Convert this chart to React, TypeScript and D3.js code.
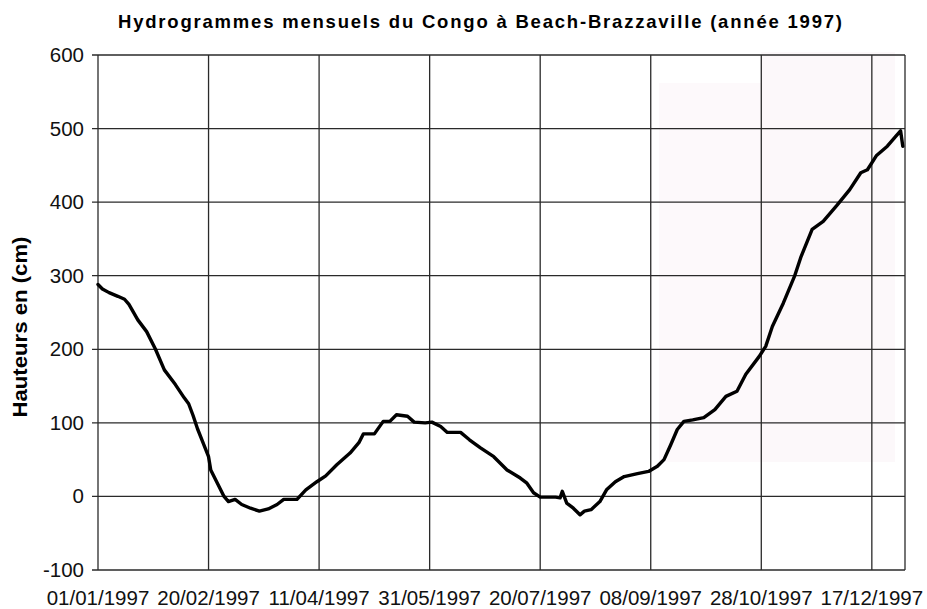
import React from "react";
import * as d3 from "d3";

const TITLE = "Hydrogrammes mensuels du Congo à Beach-Brazzaville (année 1997)";
const Y_LABEL = "Hauteurs en (cm)";

// day offsets from 01/01/1997 and water heights (cm)
const days = [
  0, 2, 5, 9, 12, 14, 18, 22, 26, 30, 35, 39, 41, 43, 45, 47, 50, 51, 54, 57, 59,
  62, 65, 69, 73, 77, 81, 84, 90, 94, 99, 103, 108, 114, 118, 120, 125, 129, 132, 135, 140,
  143, 148, 151, 155, 158, 164, 168, 173, 179, 185, 191, 194, 197, 200, 207, 209, 210, 212, 215, 218,
  220, 223, 227, 230, 234, 238, 244, 249, 253, 256, 259, 262, 265, 269, 274, 279, 284, 289, 293, 299,
  302, 305, 310, 315, 318, 323, 328, 334, 340, 345, 348, 352, 357, 361, 363, 364,
];
const heights = [
  288, 282, 277, 272, 268, 261, 240, 224, 200, 172, 152, 134, 126, 110, 92, 77, 54, 36, 18, 0, -7,
  -4, -11, -16, -20, -17, -11, -4, -4, 9, 20, 28, 43, 59, 73, 85, 85, 102, 102, 111, 109,
  101, 100, 101, 95, 87, 87, 77, 66, 54, 36, 25, 18, 5, -1, -1, -2, 7, -9, -16, -25,
  -20, -18, -7, 9, 20, 27, 31, 34, 41, 50, 70, 91, 102, 104, 107, 118, 136, 143, 166, 190,
  204, 231, 263, 299, 326, 363, 374, 395, 417, 440, 444, 463, 476, 490, 497, 476,
];

const yTicks = [-100, 0, 100, 200, 300, 400, 500, 600];
const xTickOffsets = [0, 50, 100, 150, 200, 250, 300, 350];

const W = 927;
const H = 609;
const L = 98, R = 905, T = 55, B = 570;
const FONT = "'Liberation Sans', Arial, Helvetica, sans-serif";

export default function App() {
  const start = new Date(1997, 0, 1);
  const end = new Date(1998, 0, 1);
  const x = d3.scaleTime().domain([start, end]).range([L, R]);
  const y = d3.scaleLinear().domain([-100, 600]).range([B, T]);
  const fmt = d3.timeFormat("%d/%m/%Y");

  const data = days.map((d, i) => ({ date: d3.timeDay.offset(start, d), v: heights[i] }));
  const line = d3
    .line<{ date: Date; v: number }>()
    .x((d) => x(d.date))
    .y((d) => y(d.v))
    .curve(d3.curveLinear);

  const xTicks = xTickOffsets.map((o) => d3.timeDay.offset(start, o));

  return (
    <svg
      width={W}
      height={H}
      style={{ position: "absolute", left: 0, top: 0, background: "#fff" }}
    >
      <rect x={0} y={0} width={W} height={H} fill="#fff" />
      {/* faint scan tint */}
      <rect x={659} y={83} width={102} height={379} fill="#fdf9fb" />
      <rect x={761} y={52} width={134} height={410} fill="#fcf8fa" />

      {/* horizontal grid */}
      {yTicks.map((t) => (
        <g key={"y" + t}>
          <line x1={L - 6} x2={R} y1={y(t)} y2={y(t)} stroke="#2a2a2a" strokeWidth={1.3} />
          <text
            x={84}
            y={y(t) + 7}
            textAnchor="end"
            fontFamily={FONT}
            fontSize={20.5}
            fill="#111"
          >
            {t}
          </text>
        </g>
      ))}
      {/* vertical grid */}
      {xTicks.map((t, i) => (
        <g key={"x" + i}>
          <line x1={x(t)} x2={x(t)} y1={T} y2={B} stroke="#2a2a2a" strokeWidth={1.3} />
          <text
            x={x(t)}
            y={605}
            textAnchor="middle"
            fontFamily={FONT}
            fontSize={20.5}
            fill="#111"
          >
            {fmt(t)}
          </text>
        </g>
      ))}
      <line x1={R} x2={R} y1={T} y2={B} stroke="#2a2a2a" strokeWidth={1.3} />

      {/* series */}
      <path
        d={line(data) || ""}
        fill="none"
        stroke="#000"
        strokeWidth={3.4}
        strokeLinejoin="round"
        strokeLinecap="round"
      />

      {/* title */}
      <text
        x={118}
        y={28}
        fontFamily={FONT}
        fontWeight="bold"
        fontSize={18.5}
        textLength={724}
        lengthAdjust="spacing"
        fill="#000"
      >
        {TITLE}
      </text>
      {/* y label */}
      <text
        transform={`translate(27, ${327}) rotate(-90)`}
        textAnchor="middle"
        fontFamily={FONT}
        fontWeight="bold"
        fontSize={19.5}
        textLength={181}
        lengthAdjust="spacingAndGlyphs"
        fill="#000"
      >
        {Y_LABEL}
      </text>
    </svg>
  );
}
